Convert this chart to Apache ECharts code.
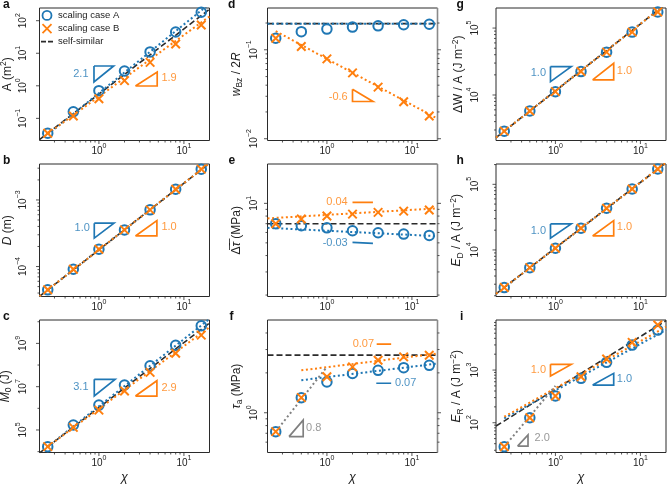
<!DOCTYPE html>
<html><head><meta charset="utf-8">
<script src="https://cdn.jsdelivr.net/npm/echarts@6/dist/echarts.min.js"></script>
<style>html,body{margin:0;padding:0;background:#fff}#c{width:667px;height:484px}</style>
</head><body><div id="c"></div>
<script>
const FONT = '"Liberation Sans", Arial, Helvetica, sans-serif';
const BLUE = '#1f77b4', ORANGE = '#ff7f0e', GRAY = '#808080', DARK = '#2b2b2b';

// ---------- data ----------
const chi = [0.25, 0.5, 1, 2, 4, 8, 16];
const selfX = [0.2, 20];
const xMajor = [1, 10];
const xMinor = [0.3, 0.4, 0.5, 0.6, 0.7, 0.8, 0.9, 2, 3, 4, 5, 6, 7, 8, 9];

// a: A (m^2)
const aCaseA = [0.035, 0.16, 0.71, 2.85, 11.0, 45, 181];
const aCaseB = [0.035, 0.118, 0.40, 1.44, 5.25, 19.2, 74];
const aSelf = [0.0224, 224];
const aFitA = [[0.25, 0.032], [20, 330]];
const aFitB = [[0.25, 0.034], [20, 135]];
const aTriA = [[0.875, 4.06], [1.49, 4.06], [0.875, 1.31], [0.875, 4.06]];
const aTriB = [[2.69, 0.986], [4.85, 0.986], [4.85, 2.65], [2.69, 0.986]];

// b: D (m)
const bCaseA = [4.47e-5, 9.1e-5, 1.82e-4, 3.55e-4, 7.1e-4, 1.45e-3, 2.9e-3];
const bCaseB = [4.47e-5, 9.1e-5, 1.82e-4, 3.55e-4, 7.1e-4, 1.45e-3, 2.9e-3];
const bSelf = [3.57e-5, 3.57e-3];
const bFitA = [[0.2, 3.57e-5], [20, 3.57e-3]];
const bFitB = [[0.2, 3.57e-5], [20, 3.57e-3]];
const bTriA = [[0.882, 4.48e-4], [1.506, 4.48e-4], [0.882, 2.67e-4], [0.882, 4.48e-4]];
const bTriB = [[2.69, 2.88e-4], [4.81, 2.88e-4], [4.81, 4.9e-4], [2.69, 2.88e-4]];

// c: M0 (J)
const cCaseA = [1.7e4, 1.7e5, 1.41e6, 1.2e7, 9.3e7, 8.1e8, 6.5e9];
const cCaseB = [1.7e4, 1.32e5, 8.3e5, 6.3e6, 4.6e7, 3.5e8, 2.4e9];
const cSelf = [8.7e3, 8.7e9];
const cFitA = [[0.25, 1.7e4], [20, 1.35e10]];
const cFitB = [[0.25, 1.7e4], [20, 5.6e9]];
const cTriA = [[0.882, 2.18e7], [1.55, 2.18e7], [0.882, 3.7e6], [0.882, 2.18e7]];
const cTriB = [[2.69, 3.7e6], [4.81, 3.7e6], [4.81, 1.88e7], [2.69, 3.7e6]];

// d: w_Bz / 2R
const dCaseA = [0.135, 0.16, 0.171, 0.18, 0.186, 0.191, 0.194];
const dCaseB = [0.135, 0.109, 0.079, 0.055, 0.038, 0.026, 0.018];
const dSelf = [0.197, 0.197];
const dFitA = [[0.2, 0.196], [20, 0.196]];
const dFitB = [[0.25, 0.162], [20, 0.0168]];
const dTriB = [[2.0, 0.036], [2.0, 0.0262], [3.48, 0.0262], [2.0, 0.036]];

// e: mean stress drop (MPa)
const eCaseA = [7.0, 6.75, 6.51, 6.18, 5.97, 5.83, 5.70];
const eCaseB = [7.0, 7.59, 8.0, 8.28, 8.53, 8.73, 8.89];
const eSelf = [7.0, 7.0];
const eFitA = [[0.2, 6.51], [20, 5.62]];
const eFitB = [[0.2, 7.68], [20, 9.16]];
const eTriA = [[2.0, 5.04], [2.0, 4.96], [3.48, 4.96], [2.0, 5.04]];
const eTriB = [[2.0, 10.18], [3.48, 10.18], [3.48, 10.41], [2.0, 10.18]];

// f: tau_a (MPa)
const fCaseA = [0.72, 1.30, 1.71, 1.98, 2.09, 2.19, 2.28];
const fCaseB = [0.72, 1.30, 1.87, 2.22, 2.49, 2.64, 2.72];
const fSelf = [2.72, 2.72];
const fFitA = [[0.5, 1.76], [20, 2.35]];
const fFitB = [[0.5, 2.09], [20, 2.80]];
const fFitEarly = [[0.25, 0.72], [1, 2.22]];
const fTriA = [[3.81, 1.67], [5.70, 1.67], [5.70, 1.72], [3.81, 1.67]];
const fTriB = [[3.85, 3.29], [5.70, 3.29], [5.70, 3.38], [3.85, 3.29]];
const fTriEarly = [[0.358, 0.66], [0.526, 0.66], [0.526, 0.88], [0.358, 0.66]];

// g: dW / A
const gCaseA = [2884, 5754, 11220, 22390, 43650, 87100, 173800];
const gCaseB = [2884, 5754, 11220, 22390, 43650, 87100, 173800];
const gSelf = [2307, 230700];
const gFitA = [[0.2, 2307], [20, 230700]];
const gFitB = [[0.2, 2307], [20, 230700]];
const gTriA = [[0.875, 26550], [1.535, 26550], [0.875, 15810], [0.875, 26550]];
const gTriB = [[2.74, 16790], [4.85, 16790], [4.85, 29850], [2.74, 16790]];

// h: E_D / A
const hCaseA = [2667, 5370, 10620, 21380, 43150, 84800, 171000];
const hCaseB = [2667, 5370, 10620, 21380, 43150, 84800, 171000];
const hSelf = [2138, 213800];
const hFitA = [[0.2, 2138], [20, 213800]];
const hFitB = [[0.2, 2138], [20, 213800]];
const hTriA = [[0.875, 24890], [1.535, 24890], [0.875, 15070], [0.875, 24890]];
const hTriB = [[2.74, 16330], [4.85, 16330], [4.85, 27930], [2.74, 16330]];

// i: E_R / A
const iCaseA = [35, 124.5, 321, 695, 1400, 2980, 5740];
const iCaseB = [35, 124.5, 321, 747, 1618, 3357, 7145];
const iSelf = [86.5, 8650];
const iFitA = [[0.25, 121], [20, 5754]];
const iFitB = [[0.25, 130], [20, 6607]];
const iFitEarly = [[0.25, 35], [1, 500]];
const iTriA = [[2.74, 519], [4.85, 519], [4.85, 865], [2.74, 519]];
const iTriB = [[0.875, 1282], [1.535, 1282], [0.875, 769], [0.875, 1282]];
const iTriEarly = [[0.359, 36.1], [0.476, 36.1], [0.476, 58.5], [0.359, 36.1]];

// ---------- panel configuration ----------
const panels = [
  {L:'a', col:0, row:0, yLog:[-1.68, 2.39], A:aCaseA, B:aCaseB, self:aSelf,
   fits:[[aFitA, BLUE], [aFitB, ORANGE]], tris:[[aTriA, BLUE], [aTriB, ORANGE]],
   labels:[['2.1', 0.765, 2.30, 'left', BLUE], ['1.9', 5.36, 1.74, 'right', ORANGE]],
   name:'{n|A (m}{sup|2}{n|)}', yMinor:false},
  {L:'b', col:0, row:1, yLog:[-4.45, -2.46], A:bCaseA, B:bCaseB, self:bSelf,
   fits:[[bFitA, BLUE], [bFitB, ORANGE]], tris:[[bTriA, BLUE], [bTriB, ORANGE]],
   labels:[['1.0', 0.792, 3.8e-4, 'left', BLUE], ['1.0', 5.36, 3.98e-4, 'right', ORANGE]],
   name:'{i|D}{n| (m)}', yMinor:true},
  {L:'c', col:0, row:2, yLog:[3.96, 10.08], A:cCaseA, B:cCaseB, self:cSelf,
   fits:[[cFitA, BLUE], [cFitB, ORANGE]], tris:[[cTriA, BLUE], [cTriB, ORANGE]],
   labels:[['3.1', 0.765, 9.3e6, 'left', BLUE], ['2.9', 5.36, 8.4e6, 'right', ORANGE]],
   name:'{i|M}{sub|0}{n| (J)}', yMinor:false, oddOnly:true},
  {L:'d', col:1, row:0, yLog:[-2.02, -0.53], A:dCaseA, B:dCaseB, self:dSelf,
   fits:[[dFitA, BLUE], [dFitB, ORANGE]], tris:[[dTriB, ORANGE]],
   labels:[['-0.6', 1.78, 0.0297, 'left', ORANGE]],
   name:'{i|w}{sub|Bz}{n| / 2}{i|R}', yMinor:true},
  {L:'e', col:1, row:1, yLog:[0.29, 1.30], A:eCaseA, B:eCaseB, self:eSelf,
   fits:[[eFitA, BLUE], [eFitB, ORANGE]], tris:[[eTriA, BLUE], [eTriB, ORANGE]],
   labels:[['-0.03', 1.78, 4.96, 'left', BLUE], ['0.04', 1.78, 10.28, 'left', ORANGE]],
   name:'{n|\u0394\u0305}{i|\u03c4\u0305}{n| (MPa)}', yMinor:true},
  {L:'f', col:1, row:2, yLog:[-0.30, 0.70], A:fCaseA, B:fCaseB, self:fSelf,
   fits:[[fFitA, BLUE], [fFitB, ORANGE], [fFitEarly, GRAY]],
   tris:[[fTriA, BLUE], [fTriB, ORANGE], [fTriEarly, GRAY]],
   labels:[['0.07', 6.22, 1.69, 'right', BLUE], ['0.07', 3.64, 3.29, 'left', ORANGE], ['0.8', 0.56, 0.77, 'right', GRAY]],
   name:'{i|\u03c4}{sub|a}{n| (MPa)}', yMinor:true},
  {L:'g', col:2, row:0, yLog:[3.32, 5.30], A:gCaseA, B:gCaseB, self:gSelf,
   fits:[[gFitA, BLUE], [gFitB, ORANGE]], tris:[[gTriA, BLUE], [gTriB, ORANGE]],
   labels:[['1.0', 0.786, 21580, 'left', BLUE], ['1.0', 5.21, 22910, 'right', ORANGE]],
   name:'{n|\u0394W / A (J m}{sup|\u22122}{n|)}', yMinor:true},
  {L:'h', col:2, row:1, yLog:[3.29, 5.31], A:hCaseA, B:hCaseB, self:hSelf,
   fits:[[hFitA, BLUE], [hFitB, ORANGE]], tris:[[hTriA, BLUE], [hTriB, ORANGE]],
   labels:[['1.0', 0.786, 19450, 'left', BLUE], ['1.0', 5.21, 22390, 'right', ORANGE]],
   name:'{i|E}{sub|D}{n| / A (J m}{sup|\u22122}{n|)}', yMinor:true},
  {L:'i', col:2, row:2, yLog:[1.435, 3.95], A:iCaseA, B:iCaseB, self:iSelf,
   fits:[[iFitA, BLUE], [iFitB, ORANGE], [iFitEarly, GRAY]],
   tris:[[iTriA, BLUE], [iTriB, ORANGE], [iTriEarly, GRAY]],
   labels:[['1.0', 0.786, 1000, 'left', ORANGE], ['1.0', 5.21, 667, 'right', BLUE], ['2.0', 0.56, 51.3, 'right', GRAY]],
   name:'{i|E}{sub|R}{n| / A (J m}{sup|\u22122}{n|)}', yMinor:true}
];

// ---------- layout ----------
const colLeft = [39.5, 267.5, 496];
const rowTop = [8, 164, 320];
const W = 170, H = 132.5;
const labelMargin = [11, 8, 16];
const nameGapCol = [22, 23, 26];
const letterPos = {a:[3,5.3], b:[3,161.8], c:[3,317.5], d:[228,5.3], e:[228.5,161.8], f:[229.5,317.5], g:[456.5,5.3], h:[456.5,161.8], i:[460,317.5]};

const tickRich = {
  b:{fontSize:10, lineHeight:14, verticalAlign:'bottom', fontFamily:FONT, color:'#222'},
  s:{fontSize:7, lineHeight:14, verticalAlign:'top', fontFamily:FONT, color:'#222'}
};
const nameRich = {
  n:{fontSize:12, lineHeight:16, fontFamily:FONT, color:'#222'},
  i:{fontSize:12, lineHeight:16, fontFamily:FONT, fontStyle:'italic', color:'#222'},
  sup:{fontSize:8.5, lineHeight:16, verticalAlign:'top', fontFamily:FONT, color:'#222'},
  sub:{fontSize:8.5, lineHeight:16, verticalAlign:'bottom', fontFamily:FONT, color:'#222'}
};

function expOf(v) { const e = Math.log10(v); const r = Math.round(e); return Math.abs(e - r) < 1e-6 ? r : null; }
function fmtTick(v, oddOnly) {
  const r = expOf(v);
  if (r === null) return '';
  if (oddOnly && Math.abs(r) % 2 === 0) return '';
  return '{b|10}{s|' + (r < 0 ? '\u2212' + (-r) : r) + '}';
}

const grids = [], xAxes = [], yAxes = [], series = [], graphics = [];

panels.forEach((p, gi) => {
  const yMin = Math.pow(10, p.yLog[0]), yMax = Math.pow(10, p.yLog[1]);
  grids.push({left: colLeft[p.col], top: rowTop[p.row], width: W, height: H, show: true,
    borderColor: DARK, borderWidth: 1, backgroundColor: 'transparent', containLabel: false, outerBoundsMode: 'none'});
  xAxes.push({type:'log', logBase:10, gridIndex: gi, min: selfX[0], max: selfX[1],
    axisLine:{show:false}, axisTick:{show:false}, splitLine:{show:false}, minorTick:{show:false},
    axisLabel:{show:true, margin:2, formatter: v => fmtTick(v, false), rich: tickRich, hideOverlap:false},
    name: p.row === 2 ? '\u03c7' : '', nameLocation:'middle', nameGap: 19,
    nameTextStyle:{fontSize:12.5, fontStyle:'italic', fontFamily:FONT, color:'#222'}});
  yAxes.push({type:'log', logBase:10, gridIndex: gi, min: yMin, max: yMax,
    axisLine:{show:false}, axisTick:{show:false}, splitLine:{show:false}, minorTick:{show:false},
    axisLabel:{show:true, rotate:90, margin: labelMargin[p.col], formatter: v => fmtTick(v, p.oddOnly), rich: tickRich, hideOverlap:false},
    name: p.name, nameLocation:'middle', nameRotate:90, nameGap: nameGapCol[p.col],
    nameTextStyle:{fontSize:12, fontFamily:FONT, color:'#222', rich: nameRich}});

  // self-similar dashed line
  series.push({type:'line', name:'self-similar', xAxisIndex:gi, yAxisIndex:gi, z:2,
    data: selfX.map((x, k) => [x, p.self[k]]), symbol:'none', silent:true,
    lineStyle:{color: DARK, width:1.6, type:[6, 3]}});
  // fits (dotted)
  p.fits.forEach(([d, c]) => series.push({type:'line', xAxisIndex:gi, yAxisIndex:gi, z:3, data:d,
    symbol:'none', silent:true, lineStyle:{color:c, width:2, type:[2, 2.6]}}));
  // markers
  series.push({type:'scatter', name:'scaling case A', xAxisIndex:gi, yAxisIndex:gi, z:4,
    data: chi.map((x, k) => [x, p.A[k]]), symbol:'circle', symbolSize:9.5,
    itemStyle:{color:'rgba(255,255,255,0)', borderColor:BLUE, borderWidth:2, opacity:1}});
  series.push({type:'scatter', name:'scaling case B', xAxisIndex:gi, yAxisIndex:gi, z:5,
    data: chi.map((x, k) => [x, p.B[k]]), symbol:'path://M0,0L10,10M10,0L0,10', symbolSize:8.5,
    itemStyle:{color:ORANGE, borderColor:ORANGE, borderWidth:2, opacity:1}});
  // slope triangles
  p.tris.forEach(([d, c]) => series.push({type:'line', xAxisIndex:gi, yAxisIndex:gi, z:3, data:d,
    symbol:'none', silent:true, clip:false, lineStyle:{color:c, width:1.7, join:'miter'}}));
  // slope labels
  p.labels.forEach(([t, x, y, side, c]) => series.push({type:'scatter', xAxisIndex:gi, yAxisIndex:gi, z:6,
    data:[[x, y]], symbolSize:1, itemStyle:{color:'rgba(0,0,0,0)'}, silent:true,
    label:{show:true, formatter:t, position: side, distance:0, color:c, fontSize:11, fontFamily:FONT}}));
  // right spine for middle column
  if (p.col === 1) {
    series.push({type:'line', xAxisIndex:gi, yAxisIndex:gi, z:7, data:[[selfX[1], yMin], [selfX[1], yMax]],
      symbol:'none', silent:true, clip:false, lineStyle:{color:'#8a8a8a', width:1.6}});
  }
  // ticks (kind 0: x bottom, 1: y left, 2: y right)
  const ticks = [];
  xMajor.forEach(v => ticks.push([v, yMin, 0, 3.5]));
  xMinor.forEach(v => ticks.push([v, yMin, 0, 2]));
  const lo = p.yLog[0], hi = p.yLog[1];
  for (let k = Math.floor(lo); k <= Math.ceil(hi); k++) {
    if (k > lo + 0.004 && k < hi - 0.004) {
      const major = !p.oddOnly || Math.abs(k) % 2 === 1;
      ticks.push([selfX[0], Math.pow(10, k), 1, major ? 3.5 : 2]);
      if (p.col === 1) ticks.push([selfX[1], Math.pow(10, k), 2, major ? 3.5 : 2]);
    }
    if (p.yMinor) {
      for (let m = 2; m <= 9; m++) {
        const v = m * Math.pow(10, k), lv = Math.log10(v);
        if (lv > lo + 0.004 && lv < hi - 0.004) {
          ticks.push([selfX[0], v, 1, 2]);
          if (p.col === 1) ticks.push([selfX[1], v, 2, 2]);
        }
      }
    }
  }
  series.push({type:'custom', xAxisIndex:gi, yAxisIndex:gi, z:8, silent:true, clip:false, data: ticks,
    renderItem: (params, api) => {
      const pt = api.coord([api.value(0), api.value(1)]);
      const kind = api.value(2), len = api.value(3);
      let x2 = pt[0], y2 = pt[1];
      if (kind === 0) y2 += len; else if (kind === 1) x2 -= len; else x2 += len;
      return {type:'line', shape:{x1:pt[0], y1:pt[1], x2:x2, y2:y2}, style:{stroke:DARK, lineWidth:0.8}};
    }});
  graphics.push({type:'text', left: letterPos[p.L][0], top: letterPos[p.L][1] - 7,
    style:{text: p.L, font: 'bold 12px ' + FONT, fill:'#111'}});
});

const chart = echarts.init(document.getElementById('c'), null, {renderer:'canvas'});
chart.setOption({
  animation:false,
  backgroundColor:'#fff',
  grid: grids, xAxis: xAxes, yAxis: yAxes, series: series, graphic: graphics,
  legend:{left:41, top:10, orient:'vertical', itemGap:2.5, itemWidth:12, itemHeight:9, padding:0,
    selectedMode:false,
    data:[
      {name:'scaling case A', icon:'circle', itemStyle:{color:'rgba(255,255,255,0)', borderColor:BLUE, borderWidth:1.8}},
      {name:'scaling case B', icon:'path://M0,0L10,10M10,0L0,10', itemStyle:{color:ORANGE, borderColor:ORANGE, borderWidth:1.8}},
      {name:'self-similar', icon:'path://M0,0h5v1.6h-5z M7,0h5v1.6h-5z', itemStyle:{color:DARK, borderWidth:0}}
    ],
    textStyle:{fontSize:9.5, fontFamily:FONT, color:'#222'}}
});
</script></body></html>
